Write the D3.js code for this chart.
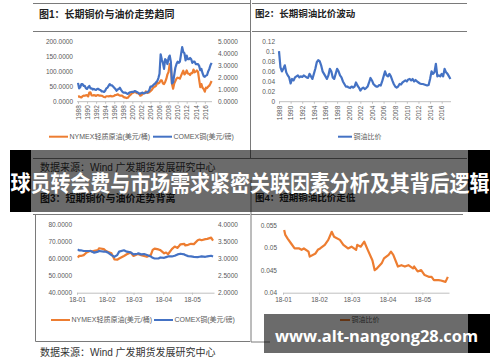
<!DOCTYPE html>
<html><head><meta charset="utf-8">
<script src="https://cdn.jsdelivr.net/npm/d3@7"></script>
<style>
body{margin:0;background:#fff}
svg{display:block}
text{font-family:"Liberation Sans","Noto Sans CJK SC",sans-serif}
</style>
</head><body>
<svg id="c" width="500" height="362"></svg>
<script>
// ---------------- DATA ----------------
const longYearTicks = [1988,1990,1992,1994,1996,1998,2000,2002,2004,2006,2008,2010,2012,2014,2016];
const oilTicks = [0,50,100,150,200];
const copperTicks = [0,1,2,3,4,5];
const ratioLongTicks = ["0","0.02","0.04","0.06","0.08","0.1","0.12"];

// quarterly, 1988Q1 .. 2017Q3
const oilLong = [
 17,17.5,15,14, 18,20,19.5,21, 21.5,17.5,30,31, 20.5,20.5,21.5,21, 19,21.5,21.5,20,
 20,19.5,17.5,15.5, 14.5,18,18,17.5, 18.5,19,17.5,18, 19.5,22,22.5,24.5, 22,20,20,20,
 16,14,13.5,12, 13,17.5,22,25, 29,30,32,31, 28.5,28,26.5,20, 21.5,26,28,28,
 34,29,30,31, 35,38,44,48, 50,53,63,60, 63,70,70,60, 58,65,75,90,
 98,124,118,59, 43,60,68,76, 79,78,76,85, 94,102,90,94, 103,93,92,88,
 94,94,106,97, 99,103,98,73, 48,58,46,42, 33,46,45,50, 53,60,68
];
const copperLong = [
 1.55,1.10,1.20,1.45, 1.45,1.30,1.30,1.10, 1.05,1.20,1.30,1.10, 1.10,1.00,1.05,1.00, 0.98,1.05,1.05,0.98,
 0.95,0.85,0.85,0.80, 0.90,1.10,1.15,1.30, 1.45,1.35,1.35,1.25, 1.15,1.05,0.90,1.00, 1.05,1.15,0.98,0.85,
 0.75,0.75,0.74,0.68, 0.64,0.72,0.78,0.80, 0.82,0.80,0.88,0.85, 0.80,0.75,0.67,0.66, 0.72,0.75,0.68,0.72,
 0.77,0.76,0.82,0.95, 1.25,1.25,1.32,1.42, 1.48,1.60,1.70,1.95, 2.30,3.90,3.50,3.20, 2.70,3.50,3.40,3.10,
 3.60,3.80,3.30,1.50, 1.60,2.20,2.80,3.10, 3.30,3.20,3.30,3.90, 4.50,4.10,4.00,3.40, 3.80,3.50,3.50,3.60,
 3.50,3.20,3.30,3.30, 3.10,3.10,3.10,2.95, 2.60,2.70,2.35,2.10, 2.05,2.15,2.20,2.50, 2.70,3.00,3.20
];
const ratioLong = [
 0.100,0.068,0.060,0.065, 0.072,0.058,0.052,0.048, 0.036,0.045,0.042,0.048, 0.050,0.052,0.048,0.050, 0.049,0.052,0.050,0.048,
 0.047,0.055,0.050,0.045, 0.055,0.065,0.078,0.082, 0.080,0.072,0.060,0.055, 0.050,0.045,0.052,0.065, 0.060,0.048,0.045,0.055,
 0.065,0.060,0.052,0.048, 0.040,0.035,0.030,0.030, 0.028,0.027,0.030,0.028, 0.030,0.038,0.032,0.028, 0.022,0.026,0.028,0.025,
 0.027,0.030,0.038,0.047, 0.042,0.035,0.032,0.030, 0.030,0.033,0.032,0.040, 0.050,0.060,0.052,0.050, 0.055,0.050,0.042,0.035,
 0.030,0.028,0.030,0.035, 0.034,0.038,0.040,0.042, 0.040,0.044,0.045,0.042, 0.045,0.040,0.043,0.040, 0.038,0.036,0.035,0.035,
 0.034,0.033,0.032,0.033, 0.045,0.060,0.055,0.058, 0.075,0.050,0.052,0.050, 0.055,0.050,0.065,0.058, 0.055,0.050,0.045
];

const shortDates = ["2018-01-02","2018-01-03","2018-01-05","2018-01-08","2018-01-11","2018-01-15","2018-01-17","2018-01-19","2018-01-23","2018-01-24","2018-01-29","2018-01-31",
 "2018-02-02","2018-02-06","2018-02-09","2018-02-12","2018-02-14","2018-02-19","2018-02-22","2018-02-26",
 "2018-03-01","2018-03-05","2018-03-06","2018-03-09","2018-03-12","2018-03-15","2018-03-19","2018-03-21","2018-03-23","2018-03-27","2018-03-29",
 "2018-04-02","2018-04-04","2018-04-06","2018-04-10","2018-04-13","2018-04-16","2018-04-19","2018-04-23","2018-04-24","2018-04-27","2018-04-30",
 "2018-05-03","2018-05-07","2018-05-09","2018-05-11","2018-05-15","2018-05-17","2018-05-21","2018-05-23"];
const oilShort = [60.5,61.5,61.5,62,63.5,64.5,64,64.5,65,66,65.5,64.5,
 64,63,59.5,59.3,60,61.5,62.5,63.5,
 61.5,62.5,62.5,62,61.5,61,62,65,65.8,65.3,64.9,
 63,63.5,62.5,65.5,67,66.2,68.3,68.6,67.7,68,68.6,
 68.4,70.7,71.1,70.7,71.3,71.5,72.2,70.5];
const copperShort = [3.27,3.24,3.24,3.22,3.22,3.22,3.2,3.17,3.2,3.22,3.2,3.2,
 3.18,3.1,3.05,3.1,3.2,3.24,3.2,3.18,
 3.12,3.14,3.15,3.12,3.13,3.1,3.06,3.02,3.0,3.0,3.03,
 3.02,3.04,3.06,3.06,3.08,3.12,3.14,3.12,3.1,3.07,3.06,
 3.05,3.04,3.05,3.06,3.05,3.06,3.08,3.06];
const ratioShort = [0.0539,0.0528,0.0520,0.0509,0.0498,0.0498,0.0495,0.0498,0.0491,0.0480,0.0487,0.0495,
 0.0498,0.0506,0.0517,0.0535,0.0524,0.0517,0.0506,0.0498,
 0.0502,0.0495,0.0506,0.0502,0.0513,0.0495,0.0472,0.0450,0.0454,0.0465,0.0476,
 0.0484,0.0491,0.0484,0.0458,0.0461,0.0458,0.0461,0.0454,0.0458,0.0447,0.0450,
 0.0439,0.0435,0.0435,0.0428,0.0428,0.0427,0.0424,0.0435];
const monthTicks = ["2018-01-01","2018-02-01","2018-03-01","2018-04-01","2018-05-01"];
const monthLabels = ["18-01","18-02","18-03","18-04","18-05"];
const oilShortTicks = [40,50,60,70,80];
const copperShortTicks = [2,2.5,3,3.5,4];
const ratioShortTicks = ["0.04","0.045","0.05","0.055"];

const titles = ["图1：长期铜价与油价走势趋同","图2：长期铜油比价波动","图3：短期铜价与油价走势背离","图4：短期铜油比价走低"];
const sourceText = "数据来源：Wind 广发期货发展研究中心";
const legendOil = "NYMEX轻质原油(美元/桶)";
const legendCopper = "COMEX铜(美元/磅)";
const legendRatio = "铜油比价";
const bannerTitle = "球员转会费与市场需求紧密关联因素分析及其背后逻辑";
const bannerUrl = "www.alt-nangong28.com";

// ---------------- DRAW ----------------
const ORANGE = "#ED7D31", BLUE = "#4472C4", TXT = "#595959", AX = "#bfbfbf", FRAME = "#7a7a7a";
const svg = d3.select("#c");
const parse = d3.timeParse("%Y-%m-%d");
const sd = shortDates.map(parse);
const qt = oilLong.map((_, i) => 1988 + i / 4);

function line(x1, y1, x2, y2, c, w) {
  svg.append("line").attr("x1", x1).attr("y1", y1).attr("x2", x2).attr("y2", y2)
    .attr("stroke", c || FRAME).attr("stroke-width", w || 1);
}
function text(x, y, s, size, opts = {}) {
  const t = svg.append("text").attr("x", x).attr("y", y).text(s)
    .attr("font-size", size).attr("fill", opts.fill || TXT)
    .attr("font-weight", opts.bold ? "bold" : null)
    .attr("text-anchor", opts.anchor || "start")
    .attr("dominant-baseline", opts.base || null);
  if (opts.family) t.style("font-family", opts.family);
  return t;
}
function styleAxis(g) {
  g.selectAll("path.domain").attr("stroke", AX);
  g.selectAll(".tick line").attr("stroke", AX);
  g.selectAll(".tick text").attr("fill", TXT).attr("font-size", 6.5)
    .style("font-family", '"Liberation Sans",sans-serif');
}
function legendItem(x1, x2, y, color, label) {
  line(x1, y, x2, y, color, 2);
  text(x2 + 1.5, y, label, 7, { base: "middle" });
}

// Frame lines
line(33, 3.5, 250, 3.5); line(33, 31.5, 250, 31.5);
line(252, 3.5, 467, 3.5); line(252, 31.5, 467, 31.5);
line(250.5, 0, 250.5, 158); line(33, 158.5, 467, 158.5);
line(33, 214.5, 250, 214.5); line(35.5, 214, 35.5, 341.5); line(35.5, 341.5, 250, 341.5);
line(251, 180, 251, 342); line(251, 214.5, 463, 214.5); line(251, 342, 270, 342);

// Titles & sources
text(39, 17.5, titles[0], 10, { bold: true, fill: "#222" });
text(255, 17, titles[1], 9.5, { bold: true, fill: "#222" });
text(40, 202, titles[2], 10, { bold: true, fill: "#222" });
text(255, 200.5, titles[3], 9.5, { bold: true, fill: "#222" });
text(40, 170.5, sourceText, 10, { fill: "#333" });
text(40, 355.5, sourceText, 10, { fill: "#333" });

// ---- Fig 1 ----
{
  const x = d3.scaleLinear().domain([1988, 2016]).range([78, 204.8]);
  const yL = d3.scaleLinear().domain([0, 200]).range([101.7, 41]);
  const yR = d3.scaleLinear().domain([0, 5]).range([101.7, 41]);
  const gx = svg.append("g").attr("transform", "translate(0,101.7)")
    .call(d3.axisBottom(x).tickValues(longYearTicks).tickFormat(d3.format("d")).tickSize(2).tickSizeOuter(0));
  styleAxis(gx);
  gx.select("path.domain").attr("d", `M77,0H212`);
  gx.selectAll(".tick text").attr("transform", "rotate(-90)").attr("text-anchor", "end")
    .attr("x", -3.5).attr("y", 0).attr("dy", "0.35em");
  const gl = svg.append("g").attr("transform", "translate(77,0)")
    .call(d3.axisLeft(yL).tickValues(oilTicks).tickFormat(d3.format(".4f")).tickSize(0).tickPadding(4));
  gl.select("path.domain").remove(); styleAxis(gl);
  const gr = svg.append("g").attr("transform", "translate(213,0)")
    .call(d3.axisRight(yR).tickValues(copperTicks).tickFormat(d3.format(".4f")).tickSize(0).tickPadding(5));
  gr.select("path.domain").remove(); styleAxis(gr);
  svg.append("path").datum(oilLong).attr("fill", "none").attr("stroke", ORANGE).attr("stroke-width", 2.2)
    .attr("stroke-linejoin", "round")
    .attr("d", d3.line().x((d, i) => x(qt[i])).y(d => yL(d)));
  svg.append("path").datum(copperLong).attr("fill", "none").attr("stroke", BLUE).attr("stroke-width", 2.2)
    .attr("stroke-linejoin", "round")
    .attr("d", d3.line().x((d, i) => x(qt[i])).y(d => yR(d)));
  legendItem(49, 68, 136.7, ORANGE, legendOil);
  legendItem(153, 172, 136.7, BLUE, legendCopper);
}

// ---- Fig 2 ----
{
  const x = d3.scaleLinear().domain([1988, 2016]).range([279, 441.7]);
  const y = d3.scaleLinear().domain([0, 0.12]).range([101.7, 41]);
  const gx = svg.append("g").attr("transform", "translate(0,101.7)")
    .call(d3.axisBottom(x).tickValues(longYearTicks).tickFormat(d3.format("d")).tickSize(2).tickSizeOuter(0));
  styleAxis(gx);
  gx.select("path.domain").attr("d", `M279,0H451`);
  gx.selectAll(".tick text").attr("transform", "rotate(-90)").attr("text-anchor", "end")
    .attr("x", -4).attr("y", 0).attr("dy", "0.35em");
  const gl = svg.append("g").attr("transform", "translate(279,0)")
    .call(d3.axisLeft(y).tickValues(ratioLongTicks.map(Number)).tickFormat((d, i) => ratioLongTicks[i]).tickSize(0).tickPadding(4));
  gl.select("path.domain").remove(); styleAxis(gl);
  svg.append("path").datum(ratioLong).attr("fill", "none").attr("stroke", BLUE).attr("stroke-width", 2.2)
    .attr("stroke-linejoin", "round")
    .attr("d", d3.line().x((d, i) => x(qt[i])).y(d => y(d)));
  legendItem(338, 352, 136.7, BLUE, legendRatio);
}

// ---- Fig 3 ----
{
  const x = d3.scaleTime().domain([parse("2018-01-01"), parse("2018-05-24")]).range([77, 214]);
  const yL = d3.scaleLinear().domain([40, 80]).range([292.7, 224.3]);
  const yR = d3.scaleLinear().domain([2, 4]).range([292.7, 224.3]);
  const gx = svg.append("g").attr("transform", "translate(0,292.7)")
    .call(d3.axisBottom(x).tickValues(monthTicks.map(parse)).tickFormat((d, i) => monthLabels[i]).tickSize(2).tickSizeOuter(0).tickPadding(3));
  styleAxis(gx);
  const gl = svg.append("g").attr("transform", "translate(76,0)")
    .call(d3.axisLeft(yL).tickValues(oilShortTicks).tickFormat(d3.format(".4f")).tickSize(0).tickPadding(4));
  gl.select("path.domain").remove(); styleAxis(gl);
  const gr = svg.append("g").attr("transform", "translate(214,0)")
    .call(d3.axisRight(yR).tickValues(copperShortTicks).tickFormat(d3.format(".4f")).tickSize(0).tickPadding(4));
  gr.select("path.domain").remove(); styleAxis(gr);
  svg.append("path").datum(oilShort).attr("fill", "none").attr("stroke", ORANGE).attr("stroke-width", 2.2)
    .attr("stroke-linejoin", "round")
    .attr("d", d3.line().x((d, i) => x(sd[i])).y(d => yL(d)));
  svg.append("path").datum(copperShort).attr("fill", "none").attr("stroke", BLUE).attr("stroke-width", 2.2)
    .attr("stroke-linejoin", "round")
    .attr("d", d3.line().x((d, i) => x(sd[i])).y(d => yR(d)));
  legendItem(51, 70, 320, ORANGE, legendOil);
  legendItem(154, 173, 320, BLUE, legendCopper);
}

// ---- Fig 4 ----
{
  const x = d3.scaleTime().domain([parse("2018-01-01"), parse("2018-05-24")]).range([283, 449]);
  const y = d3.scaleLinear().domain([0.04, 0.055]).range([292.7, 225]);
  const gx = svg.append("g").attr("transform", "translate(0,292.7)")
    .call(d3.axisBottom(x).tickValues(monthTicks.map(parse)).tickFormat((d, i) => monthLabels[i]).tickSize(2).tickSizeOuter(0).tickPadding(3));
  styleAxis(gx);
  const gl = svg.append("g").attr("transform", "translate(281,0)")
    .call(d3.axisLeft(y).tickValues(ratioShortTicks.map(Number)).tickFormat((d, i) => ratioShortTicks[i]).tickSize(0).tickPadding(4));
  gl.select("path.domain").remove(); styleAxis(gl);
  svg.append("path").datum(ratioShort).attr("fill", "none").attr("stroke", ORANGE).attr("stroke-width", 2.2)
    .attr("stroke-linejoin", "round")
    .attr("d", d3.line().x((d, i) => x(sd[i])).y(d => y(d)));
  legendItem(340, 350, 320, ORANGE, legendRatio);
}

// ---- Banners ----
svg.append("rect").attr("x", 31).attr("y", 150).attr("width", 437).attr("height", 62).attr("fill", "rgba(0,0,0,0.58)");
svg.append("rect").attr("x", 10).attr("y", 150).attr("width", 21).attr("height", 62).attr("fill", "#000");
svg.append("rect").attr("x", 468).attr("y", 150).attr("width", 22).attr("height", 62).attr("fill", "#000");
text(10.5, 191, bannerTitle, 22, { bold: true, fill: "#fff", family: '"Noto Sans CJK SC",sans-serif' })
  .attr("textLength", 479).attr("lengthAdjust", "spacingAndGlyphs");

svg.append("rect").attr("x", 264).attr("y", 314).attr("width", 204).attr("height", 39).attr("fill", "rgba(0,0,0,0.58)");
svg.append("rect").attr("x", 468).attr("y", 314).attr("width", 22).attr("height", 39).attr("fill", "#000");
text(275, 341.7, bannerUrl, 15.5, { bold: true, fill: "#fff", family: '"Open Sans",sans-serif' })
  .attr("textLength", 203).attr("lengthAdjust", "spacingAndGlyphs");
</script>
</body></html>
